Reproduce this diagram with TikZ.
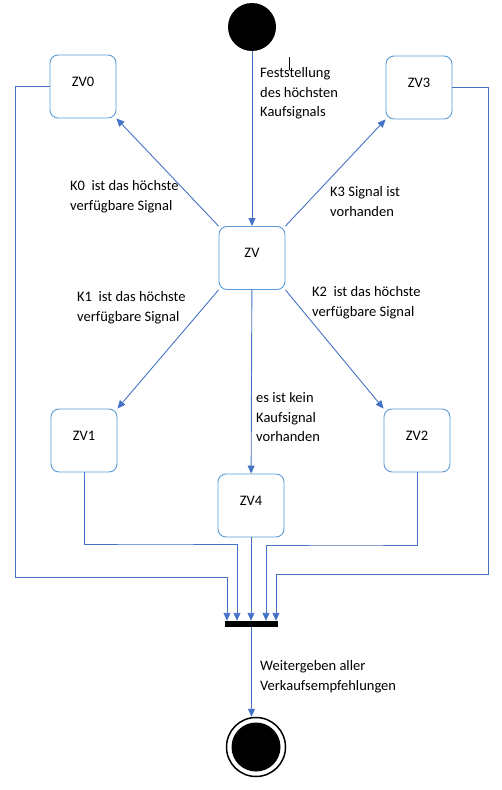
\documentclass[tikz,border=0pt]{standalone}
\usepackage{fontspec}
\setmainfont{Carlito}
\usetikzlibrary{arrows.meta}
\usepackage{xcolor}
\definecolor{ColA}{RGB}{91,155,213}
\definecolor{ColB}{RGB}{68,114,196}
\tikzstyle{StateBox}=[rectangle,rounded corners=8pt,draw=ColA,line width=0.9pt,minimum width=66pt,
minimum height=63pt,inner sep=0pt,text depth=10pt,font=\fontsize{14.5}{17}\selectfont]
\tikzstyle{EdgeFlow}=[ColB,line width=0.9pt,-{Triangle[length=8pt,width=7pt]}]
\tikzstyle{LabelText}=[anchor=north west,align=left,inner sep=0pt,font=\fontsize{14.5}{19.5}\selectfont]

\begin{document}
\begin{tikzpicture}[x=1pt,y=-1pt]
        \useasboundingbox(0,0)rectangle(502,790);
        % states
        \node[circle,fill=black,minimum size=48pt,inner sep=0pt](start)at(252,27){};
        \node[StateBox](zv0)at(83,86.5){ZV0};
        \node[StateBox](zv3)at(419,87.5){ZV3};
        \node[StateBox](zv)at(252,258){ZV};
        \node[StateBox](zv1)at(84,440.5){ZV1};
        \node[StateBox](zv2)at(417,440.5){ZV2};
        \node[StateBox](zv4)at(251,505.5){ZV4};
        \node[rectangle,fill=black,minimum width=53pt,minimum height=6pt,inner sep=0pt](join)at(251.5,624){};
        \node[circle,draw=black,line width=1.5pt,minimum size=59pt,inner sep=0pt,
        path picture={\fill[black](path picture bounding box.center)circle(24.5pt);}](fin)at(256,747){};
        % labels
        \node[LabelText](lstart)at(260,67.5){Feststellung\\des höchsten\\Kaufsignals};
        \node[LabelText](lzv0)at(70,180.5){K0\ \ ist das höchste\\verfügbare Signal};
        \node[LabelText](lzv3)at(330,186.5){K3 Signal ist\\vorhanden};
        \node[LabelText](lzv1)at(77,291.5){K1\ \ ist das höchste\\verfügbare Signal};
        \node[LabelText](lzv2)at(312,286.5){K2\ \ ist das höchste\\verfügbare Signal};
        \node[LabelText](lzv4)at(256,392.5){es ist kein\\Kaufsignal\\vorhanden};
        \node[LabelText](lfin)at(260,660.5){Weitergeben aller\\Verkaufsempfehlungen};
        \draw[line width=0.5pt](289,57)--(289,70);
        % transitions
        \draw[EdgeFlow](start)--(zv);
        \draw[EdgeFlow](zv.north west)--(zv0.south east);
        \draw[EdgeFlow](zv.north east)--(zv3.south west);
        \draw[EdgeFlow](zv.south west)--(zv1.north east);
        \draw[EdgeFlow](zv.south east)--(zv2.north west);
        \draw[EdgeFlow](zv)--(zv4);
        % joining
        \draw[EdgeFlow](zv0.west)-|(15,577)-|([xshift=-24.5pt]join.north);
        \draw[EdgeFlow](zv1.south)|-(150,544)-|([xshift=-14.5pt]join.north);
        \draw[EdgeFlow](zv4)--(zv4|-join.north);
        \draw[EdgeFlow](zv2.south)|-(350,545)-|([xshift=14.5pt]join.north);
        \draw[EdgeFlow](zv3.east)-|(488,574)-|([xshift=24.5pt]join.north);
        \draw[EdgeFlow](join)--(join|-fin.north);
    \end{tikzpicture}
\end{document}
